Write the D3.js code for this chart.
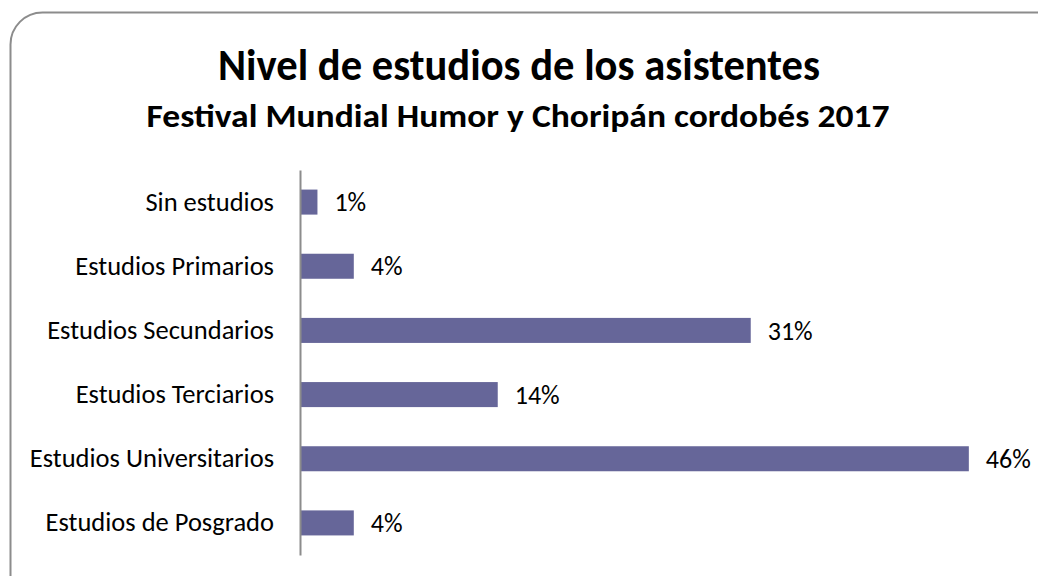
<!DOCTYPE html>
<html>
<head>
<meta charset="utf-8">
<script src="https://cdn.jsdelivr.net/npm/d3@7"></script>
<style>
  body { margin: 0; background: #fff; }
  text { font-family: Carlito, Calibri, "Open Sans", sans-serif; fill: #000; }
</style>
</head>
<body>
<svg id="chart" width="1038" height="576"></svg>
<script>
var categories = ["Sin estudios", "Estudios Primarios", "Estudios Secundarios",
    "Estudios Terciarios", "Estudios Universitarios", "Estudios de Posgrado"];
var values = [1.2, 3.7, 31.0, 13.6, 46.0, 3.7];
var labels = ["1%", "4%", "31%", "14%", "46%", "4%"];
var title = "Nivel de estudios de los asistentes";
var subtitle = "Festival Mundial Humor y Choripán cordobés 2017";

var svg = d3.select("#chart");

// frame
svg.append("rect")
    .attr("x", 10.5).attr("y", 12.5)
    .attr("width", 1060).attr("height", 600)
    .attr("rx", 32).attr("ry", 32)
    .attr("fill", "#fff")
    .attr("stroke", "#8c8c8c")
    .attr("stroke-width", 2);

svg.append("text")
    .attr("x", 519).attr("y", 80)
    .attr("text-anchor", "middle")
    .attr("font-size", 44).attr("font-weight", "bold")
    .attr("textLength", 602).attr("lengthAdjust", "spacingAndGlyphs")
    .text(title);

svg.append("text")
    .attr("x", 518).attr("y", 127)
    .attr("text-anchor", "middle")
    .attr("font-size", 32).attr("font-weight", "bold")
    .attr("textLength", 743).attr("lengthAdjust", "spacingAndGlyphs")
    .text(subtitle);

var xScale = d3.scaleLinear()
    .domain([0, 50])
    .range([300, 1027]);

var yScale = d3.scaleBand()
    .domain(categories)
    .range([170, 555])
    .paddingInner(0.61)
    .paddingOuter(0.305);

svg.append("g").selectAll("rect")
    .data(values)
    .enter()
    .append("rect")
    .attr("x", xScale(0))
    .attr("y", function (d, i) { return yScale(categories[i]); })
    .attr("width", function (d) { return xScale(d) - xScale(0); })
    .attr("height", yScale.bandwidth())
    .attr("fill", "#666699");

svg.append("g").selectAll("text")
    .data(values)
    .enter()
    .append("text")
    .attr("x", function (d) { return xScale(d) + 17; })
    .attr("y", function (d, i) { return yScale(categories[i]) + yScale.bandwidth() / 2; })
    .attr("dy", "0.35em")
    .attr("font-size", 26)
    .text(function (d, i) { return labels[i]; });

var yAxis = d3.axisLeft(yScale).tickSize(0).tickPadding(26);
var gy = svg.append("g")
    .attr("transform", "translate(" + xScale(0) + ",0)")
    .call(yAxis);
gy.select(".domain").attr("stroke", "#8c8c8c").attr("stroke-width", 2);
gy.selectAll("text")
    .attr("font-size", 26.5)
    .style("font-family", "Carlito, Calibri, 'Open Sans', sans-serif")
    .attr("fill", "#000");
</script>
</body>
</html>
